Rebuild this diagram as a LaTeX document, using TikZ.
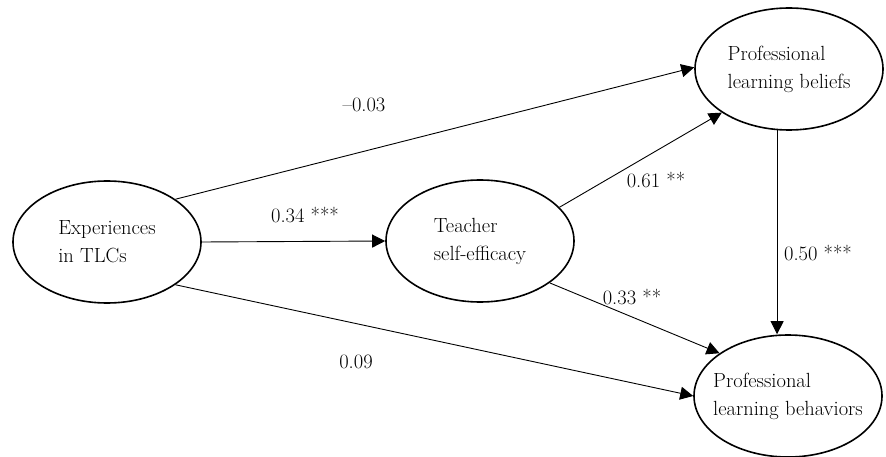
\documentclass[tikz,border=0pt]{standalone}
\usetikzlibrary{shapes.geometric,arrows.meta}
\begin{document}
\begin{tikzpicture}[x=1pt,y=-1pt,
  latent/.style={ellipse,draw,line width=1.6pt,minimum width=188pt,minimum height=122pt,inner sep=0pt},
  lab/.style={align=left,inner sep=0pt,font=\fontsize{20.5}{28}\selectfont},
  pathto/.style={line width=0.9pt,-{Triangle[length=13pt,width=13pt]}},
  coef/.style={font=\fontsize{20.5}{24}\selectfont,inner sep=0pt}]
\useasboundingbox (0,0) rectangle (886,457);
\node[latent] (exp) at (107,242) {};
\node[lab] (expt) at (exp) {Experiences\\in TLCs};
\node[latent] (tse) at (480,241) {};
\node[lab] (tset) at (tse) {Teacher\\self-efficacy};
\node[latent] (plb) at (789,69) {};
\node[lab] (plbt) at (plb) {Professional\\learning beliefs};
\node[latent] (beh) at (788,396) {};
\node[lab] (beht) at (beh) {Professional\\learning behaviors};
\draw[pathto] (exp.32) -- (plb.179);
\draw[pathto] (exp.0) -- (tse.180);
\draw[pathto] (exp.-32) -- (beh.180);
\draw[pathto] (tse.23) -- (plb.213);
\draw[pathto] (tse.-31) -- (beh.148);
\draw[pathto] (plb.259) -- (plb.259 |- beh.north);
\node[coef] (c1) at (364,105) {\textendash0.03};
\node[coef] (c2) at (305,215) {0.34 ***};
\node[coef] (c3) at (656,180) {0.61 **};
\node[coef] (c4) at (632,297) {0.33 **};
\node[coef] (c5) at (818,253) {0.50 ***};
\node[coef] (c6) at (356,362) {0.09};
\end{tikzpicture}
\end{document}
